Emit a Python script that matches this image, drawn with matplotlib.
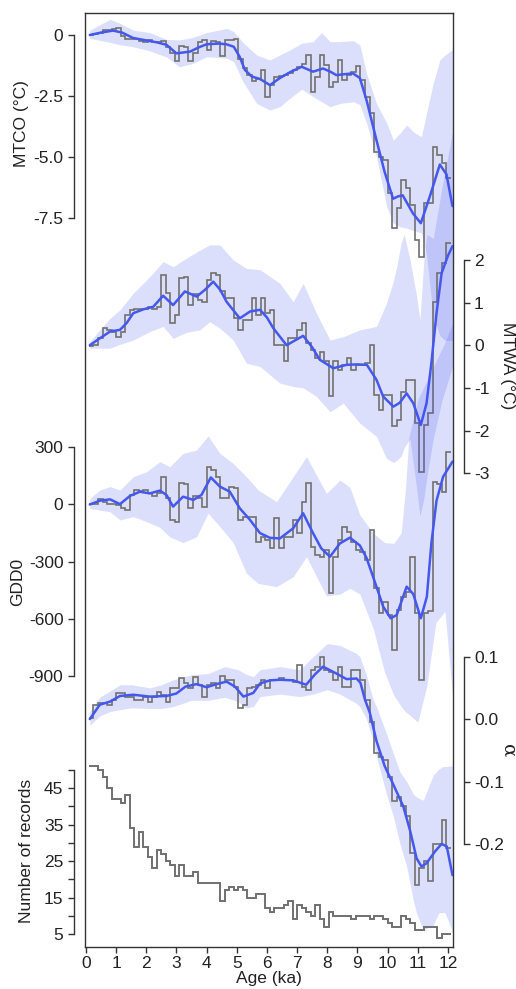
import numpy as np
import matplotlib.pyplot as plt

plt.rcParams['font.family'] = ['Liberation Sans', 'DejaVu Sans']

# age bins of the composite (ka)
bin_edges = np.linspace(0.1, 12.1, 81)

# ---- MTCO (°C)
mtco_step = [0.0, 0.05, 0.1, 0.2, 0.2, 0.25, 0.3, -0.05, -0.15, -0.15,
             -0.15, -0.25, -0.3, -0.2, -0.3, -0.3, -0.25, -0.5, -0.75, -1.05,
             -0.45, -0.5, -1.05, -0.75, -0.3, -0.2, -0.6, -0.25, -0.3, -0.85,
             -0.2, -0.2, -0.15, -1.0, -1.35, -1.65, -1.9, -1.8, -1.43, -2.52,
             -2.05, -1.7, -1.68, -1.64, -1.54, -1.43, -1.3, -1.2, -0.82, -2.32,
             -1.7, -0.82, -1.23, -2.11, -1.91, -1.02, -1.84, -1.64, -1.5, -1.27,
             -1.84, -2.52, -3.2, -4.77, -4.98, -5.11, -6.48, -7.91, -7.09, -5.93,
             -6.27, -6.96, -8.39, -9.08, -6.89, -6.89, -4.57, -4.91, -5.25, -5.86]
mtco_age = [0.13, 0.5, 0.9, 1.2, 1.56, 2.0, 2.35, 2.67, 3.0, 3.45, 3.75, 4.0, 4.4,
            4.66, 4.9, 5.1, 5.27, 5.5, 5.77, 6.1, 6.43, 6.8, 7.15, 7.53, 7.86, 8.1,
            8.3, 8.6, 8.85, 9.08, 9.3, 9.63, 9.9, 10.18, 10.35, 10.5, 10.84, 11.1,
            11.4, 11.73, 11.95, 12.15]
mtco_fit = [0.0, 0.1, 0.18, 0.1, -0.12, -0.22, -0.3, -0.4, -0.75, -0.68, -0.5,
            -0.38, -0.35, -0.38, -0.48, -0.9, -1.43, -1.7, -1.8, -2.05, -1.76, -1.5,
            -1.3, -1.5, -1.37, -1.5, -1.64, -1.6, -1.57, -1.76, -2.66, -4.3, -5.6,
            -6.7, -6.6, -6.56, -7.3, -7.7, -6.6, -5.3, -5.7, -7.0]
mtco_band_age = [0.13, 0.8, 1.13, 1.56, 2.12, 2.67, 3.1, 3.55, 4.0, 4.67, 4.9, 5.2,
                 5.66, 6.1, 6.43, 6.76, 7.15, 7.53, 7.81, 8.09, 8.42, 8.86, 9.08,
                 9.3, 9.63, 9.97, 10.19, 10.41, 10.63, 10.85, 11.12, 11.29, 11.51,
                 11.73, 11.9, 12.15]
mtco_hi = [0.2, 0.64, 0.48, 0.2, 0.1, -0.18, -0.2, -0.1, 0.1, 0.27, 0.14, -0.3,
           -0.82, -1.02, -0.82, -0.61, -0.34, -0.27, 0.1, -0.27, -0.27, -0.23, -0.41,
           -1.57, -2.8, -3.6, -4.3, -4.02, -3.68, -3.96, -4.16, -3.2, -1.98, -1.02,
           -0.82, -0.6]
mtco_lo = [-0.14, -0.3, -0.4, -0.48, -0.65, -0.9, -1.3, -1.16, -0.89, -0.95, -1.09,
           -1.9, -2.8, -3.07, -2.93, -2.59, -2.22, -2.52, -2.73, -2.93, -2.8, -2.73,
           -2.85, -3.6, -4.98, -7.02, -7.7, -7.85, -7.9, -8.0, -8.1, -9.0, -11.5,
           -12.3, -12.5, -12.5]

# ---- MTWA (°C)
mtwa_step = [-0.02, 0.0, 0.16, 0.4, 0.36, 0.32, 0.2, 0.3, 0.71, 0.83,
             0.84, 0.84, 0.84, 0.9, 0.84, 0.9, 1.65, 1.22, 0.52, 0.7,
             1.57, 1.6, 0.94, 1.2, 1.06, 1.02, 1.53, 1.69, 1.65, 1.26,
             1.1, 1.1, 0.63, 0.36, 0.6, 0.6, 1.1, 0.7, 1.1, 0.75,
             0.83, 0.01, 0.01, -0.38, 0.16, 0.16, 0.36, 0.52, 0.05, -0.11,
             -0.3, -0.15, -0.38, -1.2, -0.38, -0.58, -0.46, -0.3, -0.58, -0.46,
             -0.46, -0.42, 0.0, -1.17, -1.52, -1.17, -1.17, -1.9, -1.75, -1.1,
             -0.81, -0.81, -1.83, -2.98, -1.87, -1.6, 1.02, 1.69, 1.92, 2.39]
mtwa_age = [0.13, 0.46, 0.8, 1.13, 1.35, 1.57, 1.9, 2.23, 2.56, 2.89, 3.28, 3.67,
            3.95, 4.22, 4.45, 4.66, 5.1, 5.44, 5.77, 6.0, 6.21, 6.65, 6.9, 7.2, 7.5,
            7.75, 8.2, 8.64, 9.0, 9.31, 9.63, 9.85, 10.19, 10.4, 10.63, 10.85, 11.1,
            11.29, 11.45, 11.62, 11.79, 12.0, 12.15]
mtwa_fit = [0.0, 0.16, 0.32, 0.36, 0.52, 0.75, 0.84, 0.9, 1.16, 0.94, 1.26, 1.14,
            1.3, 1.49, 1.3, 1.02, 0.63, 0.79, 0.83, 0.65, 0.4, 0.0, 0.1, 0.22, -0.05,
            -0.34, -0.54, -0.46, -0.45, -0.46, -0.81, -1.2, -1.44, -1.35, -1.13,
            -1.36, -1.87, -1.36, -0.42, 0.75, 1.69, 2.1, 2.32]
mtwa_band_age = [0.13, 0.46, 0.8, 1.13, 1.57, 2.12, 2.56, 2.89, 3.33, 3.78, 4.1,
                 4.44, 4.88, 5.32, 5.77, 6.43, 6.87, 7.2, 7.64, 8.09, 8.53, 9.08,
                 9.63, 9.96, 10.19, 10.3, 10.45, 10.55, 10.74, 10.95, 11.07, 11.2,
                 11.3, 11.51, 11.8, 12.15]
mtwa_hi = [0.08, 0.36, 0.63, 0.83, 1.22, 1.61, 1.96, 1.84, 2.04, 2.23, 2.35, 2.35,
           2.0, 1.8, 1.77, 1.45, 1.02, 1.45, 0.75, 0.12, 0.2, 0.36, 0.44, 0.98,
           1.5, 1.84, 2.4, 2.6, 2.0, 1.2, 0.6, 2.0, 2.6, 2.5, 3.7, 5.0]
mtwa_lo = [-0.07, -0.07, -0.07, 0.02, 0.12, 0.32, 0.44, 0.16, 0.3, 0.36, 0.55, 0.4,
           0.12, -0.42, -0.5, -0.89, -0.97, -1.0, -1.2, -1.56, -1.36, -1.83, -2.14,
           -2.65, -2.75, -2.7, -2.6, -2.4, -2.2, -3.3, -4.0, -3.6, -3.1, -2.2, -1.3,
           -0.5]

# ---- GDD0
gdd_step = [0, 5, 27, 15, 5, 5, -3, -20, -29, 50,
            76, 72, 76, 58, 45, 62, 142, 32, -81, -90,
            114, 110, -20, 45, 32, -11, 198, 181, 146, 32,
            32, 94, 85, -81, -67, -67, -67, -195, -169, -186,
            -230, -73, -230, -169, -169, -81, -151, 15, 111, -221,
            -265, -274, -239, -466, -274, -186, -120, -143, -195, -239,
            -250, -291, -134, -440, -571, -510, -580, -763, -554, -484,
            -457, -274, -571, -921, -571, -560, 120, 110, 67, 274]
gdd_age = [0.13, 0.46, 0.8, 1.13, 1.46, 1.79, 2.12, 2.45, 2.67, 2.89, 3.22, 3.56,
           3.83, 4.14, 4.44, 4.77, 5.1, 5.44, 5.77, 6.1, 6.43, 6.87, 7.2, 7.53, 7.8,
           8.09, 8.42, 8.75, 9.08, 9.3, 9.63, 9.85, 10.1, 10.3, 10.63, 10.85, 11.1,
           11.3, 11.45, 11.62, 11.84, 12.15]
gdd_fit = [0, 20, 27, 2, 45, 67, 58, 73, 50, -11, 41, 24, 50, 142, 94, 67, -20,
           -81, -150, -175, -178, -125, -46, -151, -230, -274, -204, -174, -215,
           -280, -431, -535, -597, -580, -431, -470, -597, -484, -204, 20, 146, 225]
gdd_band_age = [0.13, 0.46, 0.8, 1.13, 1.57, 2.01, 2.45, 2.78, 3.22, 3.67, 4.05,
                4.44, 4.88, 5.32, 5.71, 6.32, 6.87, 7.31, 7.97, 8.42, 8.75, 9.08,
                9.52, 9.9, 10.2, 10.45, 10.6, 10.7, 11.0, 11.3, 11.6, 11.9, 12.15]
gdd_hi = [32, 76, 94, 76, 146, 172, 225, 198, 268, 286, 360, 268, 216, 146, 76,
          15, 146, 251, 58, 128, 90, -55, -150, -200, -204, -150, 100, 350, 550,
          650, 750, 850, 950]
gdd_lo = [-20, -30, -38, -81, -64, -90, -120, -170, -200, -169, -46, -116, -200,
          -361, -414, -431, -379, -274, -480, -470, -440, -470, -650, -880, -1000,
          -1060, -1090, -1100, -1142, -950, -620, -560, -1000]

# ---- alpha
alpha_step = [0.001, 0.022, 0.025, 0.025, 0.022, 0.031, 0.041, 0.041, 0.036, 0.036,
              0.031, 0.031, 0.036, 0.028, 0.036, 0.044, 0.038, 0.028, 0.049, 0.049,
              0.065, 0.058, 0.049, 0.067, 0.055, 0.036, 0.055, 0.058, 0.049, 0.069,
              0.063, 0.063, 0.052, 0.017, 0.022, 0.049, 0.052, 0.055, 0.063, 0.049,
              0.063, 0.063, 0.065, 0.063, 0.063, 0.06, 0.087, 0.052, 0.046, 0.079,
              0.084, 0.1, 0.079, 0.076, 0.063, 0.084, 0.052, 0.052, 0.079, 0.079,
              0.063, 0.031, -0.004, -0.055, -0.06, -0.065, -0.092, -0.132, -0.125, -0.14,
              -0.156, -0.215, -0.266, -0.239, -0.228, -0.26, -0.2, -0.2, -0.162, -0.207]
alpha_age = [0.13, 0.46, 0.8, 1.13, 1.57, 2.12, 2.67, 3.0, 3.3, 3.67, 4.0, 4.33,
             4.66, 4.94, 5.22, 5.55, 5.77, 6.1, 6.43, 6.87, 7.3, 7.6, 7.86, 8.1, 8.3,
             8.64, 8.97, 9.1, 9.25, 9.41, 9.63, 9.9, 10.19, 10.52, 10.74, 10.96,
             11.12, 11.29, 11.57, 11.79, 11.96, 12.15]
alpha_fit = [0.0, 0.023, 0.028, 0.037, 0.039, 0.036, 0.037, 0.041, 0.052, 0.056,
             0.051, 0.056, 0.06, 0.052, 0.036, 0.042, 0.057, 0.062, 0.063, 0.062,
             0.055, 0.072, 0.084, 0.078, 0.073, 0.064, 0.065, 0.058, 0.031, 0.01,
             -0.035, -0.075, -0.105, -0.14, -0.178, -0.223, -0.236, -0.231, -0.212,
             -0.2, -0.204, -0.25]
alpha_band_age = [0.13, 0.46, 0.8, 1.13, 1.5, 2.12, 2.5, 2.89, 3.5, 4.05, 4.6, 5.05,
                  5.3, 5.55, 5.77, 6.43, 7.09, 7.53, 8.0, 8.42, 8.97, 9.08, 9.3,
                  9.52, 9.63, 9.96, 10.19, 10.41, 10.63, 10.85, 10.96, 11.18, 11.51,
                  11.7, 11.84, 11.9, 12.15]
alpha_hi = [0.012, 0.035, 0.045, 0.055, 0.055, 0.05, 0.055, 0.063, 0.071, 0.073,
            0.084, 0.079, 0.072, 0.068, 0.079, 0.084, 0.079, 0.1, 0.121, 0.118,
            0.105, 0.1, 0.07, 0.031, 0.02, -0.023, -0.055, -0.085, -0.1, -0.12,
            -0.125, -0.13, -0.09, -0.08, -0.076, -0.076, -0.075]
alpha_lo = [-0.01, 0.005, 0.012, 0.015, 0.018, 0.017, 0.017, 0.02, 0.03, 0.03,
            0.035, 0.028, 0.018, 0.02, 0.036, 0.04, 0.036, 0.04, 0.047, 0.04,
            0.025, 0.02, 0.0, -0.035, -0.06, -0.12, -0.156, -0.2, -0.236, -0.29,
            -0.311, -0.338, -0.33, -0.31, -0.31, -0.31, -0.34]

# ---- number of records per bin
records = [51, 51, 50, 48, 45, 42, 42, 41, 43, 34, 29, 33, 29, 26, 23, 28, 27, 25,
           24, 21, 24, 21, 21, 22, 19, 19, 19, 19, 19, 14, 17, 18, 17, 18, 17, 15,
           15, 16, 16, 12, 11, 12, 12, 13, 14, 9, 13, 12, 11, 10, 13, 9, 7, 11, 10,
           10, 10, 10, 9, 10, 10, 10, 9, 10, 10, 9, 8, 7, 7, 10, 9, 8, 6, 6, 7, 7,
           7, 4, 5, 5]

step_col = '#707070'
fit_col = '#4457ee'
band_col = '#4050f0'
ink = '#333333'
txt = '#222222'
fs = 12.5

W, H = 516, 989
fig = plt.figure(figsize=(W / 100, H / 100), dpi=100)
rect = [85 / W, 1 - 946.7 / H, 367.5 / W, 933.4 / H]

base = fig.add_axes(rect)
base.set_xlim(-0.03, 12.15)
base.set_ylim(0, 1)
base.set_yticks([])
base.set_xticks(range(13))
for s in base.spines.values():
    s.set_color(ink)
    s.set_linewidth(1.0)
base.tick_params(axis='x', length=4.5, width=1, color=ink, labelsize=fs,
                 labelcolor=txt, pad=2)
base.set_xlabel('Age (ka)', fontsize=fs, color=txt, labelpad=0)


def panel(ylim, side, ticks, labels, bounds):
    ax = fig.add_axes(rect, sharex=base)
    ax.patch.set_visible(False)
    for name, sp in ax.spines.items():
        sp.set_visible(name == side)
    sp = ax.spines[side]
    sp.set_position(('outward', 8))
    sp.set_bounds(*bounds)
    sp.set_color(ink)
    sp.set_linewidth(1.0)
    ax.set_ylim(*ylim)
    ax.yaxis.set_ticks_position(side)
    ax.set_yticks(ticks)
    ax.set_yticklabels(labels)
    ax.tick_params(axis='y', length=4.5, width=1, color=ink, labelsize=fs,
                   labelcolor=txt, pad=3)
    ax.tick_params(axis='x', bottom=False, labelbottom=False)
    return ax


def draw(ax, step, fit_age, fit, band_age, hi, lo):
    ax.fill_between(band_age, lo, hi, color=band_col, alpha=0.18, lw=0, zorder=1)
    ax.stairs(step, bin_edges, baseline=None, color=step_col, lw=1.2, zorder=2)
    ax.plot(fit_age, fit, color=fit_col, lw=1.8, zorder=3, solid_capstyle='round')


ax1 = panel((-37.30, 0.888), 'left', [0, -2.5, -5.0, -7.5],
            ['0', '-2.5', '-5.0', '-7.5'], (-7.5, 0))
draw(ax1, mtco_step, mtco_age, mtco_fit, mtco_band_age, mtco_hi, mtco_lo)

ax2 = panel((-14.10, 7.78), 'right', [2, 1, 0, -1, -2, -3],
            ['2', '1', '0', '-1', '-2', '-3'], (-3, 2))
draw(ax2, mtwa_step, mtwa_age, mtwa_fit, mtwa_band_age, mtwa_hi, mtwa_lo)

ax3 = panel((-2320, 2577), 'left', [300, 0, -300, -600, -900],
            ['300', '0', '-300', '-600', '-900'], (-900, 300))
draw(ax3, gdd_step, gdd_age, gdd_fit, gdd_band_age, gdd_hi, gdd_lo)

ax4 = panel((-0.3646, 1.1305), 'right', [0.1, 0.0, -0.1, -0.2],
            ['0.1', '0.0', '-0.1', '-0.2'], (-0.2, 0.1))
draw(ax4, alpha_step, alpha_age, alpha_fit, alpha_band_age, alpha_hi, alpha_lo)

ax5 = panel((1.51, 257.6), 'left', list(range(5, 51, 5)),
            ['5', '', '15', '', '25', '', '35', '', '45', ''], (5, 50))
ax5.stairs(records, bin_edges, baseline=None, color=step_col, lw=1.4, zorder=2)

# axis titles
lab = dict(fontsize=fs, color=txt, ha='center', va='center')
fig.text(22 / W, 1 - 124 / H, 'MTCO (°C)', rotation=90, **lab)
fig.text(508 / W, 1 - 366 / H, 'MTWA (°C)', rotation=270, **lab)
fig.text(18 / W, 1 - 582 / H, 'GDD0', rotation=90, **lab)
fig.text(508 / W, 1 - 751 / H, 'α', rotation=270, fontsize=14, color=txt,
         ha='center', va='center', family=['DejaVu Serif'])
fig.text(27 / W, 1 - 851 / H, 'Number of records', rotation=90, **lab)

fig.savefig('out.png', dpi=100)
